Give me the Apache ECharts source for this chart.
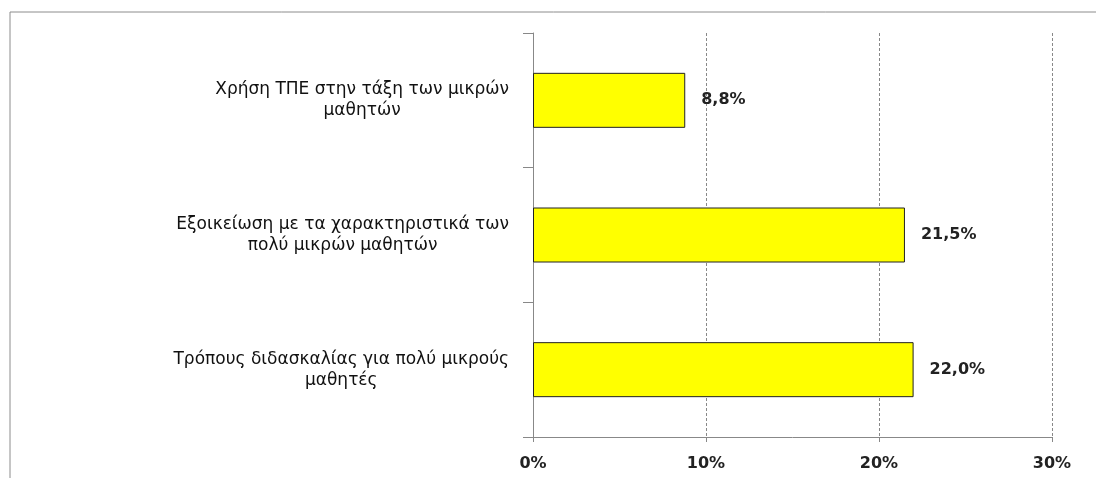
<!DOCTYPE html>
<html>
<head>
<meta charset="utf-8">
<script src="https://cdn.jsdelivr.net/npm/echarts@6/dist/echarts.min.js"></script>
<style>
  html, body { margin: 0; padding: 0; background: #fff; }
  #main { width: 1096px; height: 478px; }
</style>
</head>
<body>
<div id="main"></div>
<script>
// categories, top to bottom
var categories = [
  'Χρήση ΤΠΕ στην τάξη των μικρών\nμαθητών',
  'Εξοικείωση με τα χαρακτηριστικά των\nπολύ μικρών μαθητών',
  'Τρόπους διδασκαλίας για πολύ μικρούς\nμαθητές'
];
var values = [8.8, 21.5, 22.0];
var xTicks = [0, 10, 20, 30];

window.onload = function () {
  var myChart = echarts.init(document.getElementById('main'));
  var option = {
    backgroundColor: '#fff',
    animation: false,
    graphic: [{
      type: 'rect',
      shape: { x: 10, y: 12, width: 1200, height: 600 },
      style: { fill: 'none', stroke: '#8c8c8c', lineWidth: 1 },
      silent: true
    }],
    grid: {
      left: 533,
      right: 44,
      top: 33,
      bottom: 41
    },
    xAxis: {
      type: 'value',
      min: xTicks[0],
      max: xTicks[xTicks.length - 1],
      interval: 10,
      axisLine: { show: true, lineStyle: { color: '#888', width: 1 } },
      axisTick: { show: true, length: 5, lineStyle: { color: '#888' } },
      splitLine: {
        show: true,
        lineStyle: { color: '#888', type: [3, 2], width: 1 }
      },
      axisLabel: {
        margin: 19,
        fontFamily: 'DejaVu Sans',
        fontSize: 16,
        fontWeight: 'bold',
        color: '#222',
        formatter: function (v) { return v + '%'; }
      }
    },
    yAxis: {
      type: 'category',
      inverse: true,
      data: categories,
      axisLine: { show: true, lineStyle: { color: '#888', width: 1 } },
      axisTick: { show: true, length: 10, lineStyle: { color: '#888' } },
      axisLabel: {
        margin: 24,
        align: 'right',
        formatter: function (v) {
          return v.split('\n').map(function (s) { return '{c|' + s + '}'; }).join('\n');
        },
        rich: {
          c: {
            align: 'center',
            fontFamily: 'DejaVu Sans',
            fontSize: 17,
            lineHeight: 21,
            color: '#111'
          }
        }
      }
    },
    series: [{
      type: 'bar',
      data: values,
      barWidth: 55,
      itemStyle: { color: '#ffff00', borderColor: '#222', borderWidth: 1 },
      label: {
        show: true,
        position: 'right',
        distance: 16,
        fontFamily: 'DejaVu Sans',
        fontSize: 16,
        fontWeight: 'bold',
        color: '#222',
        formatter: function (p) { return p.value.toFixed(1).replace('.', ',') + '%'; }
      }
    }]
  };
  myChart.setOption(option);
};
</script>
</body>
</html>
